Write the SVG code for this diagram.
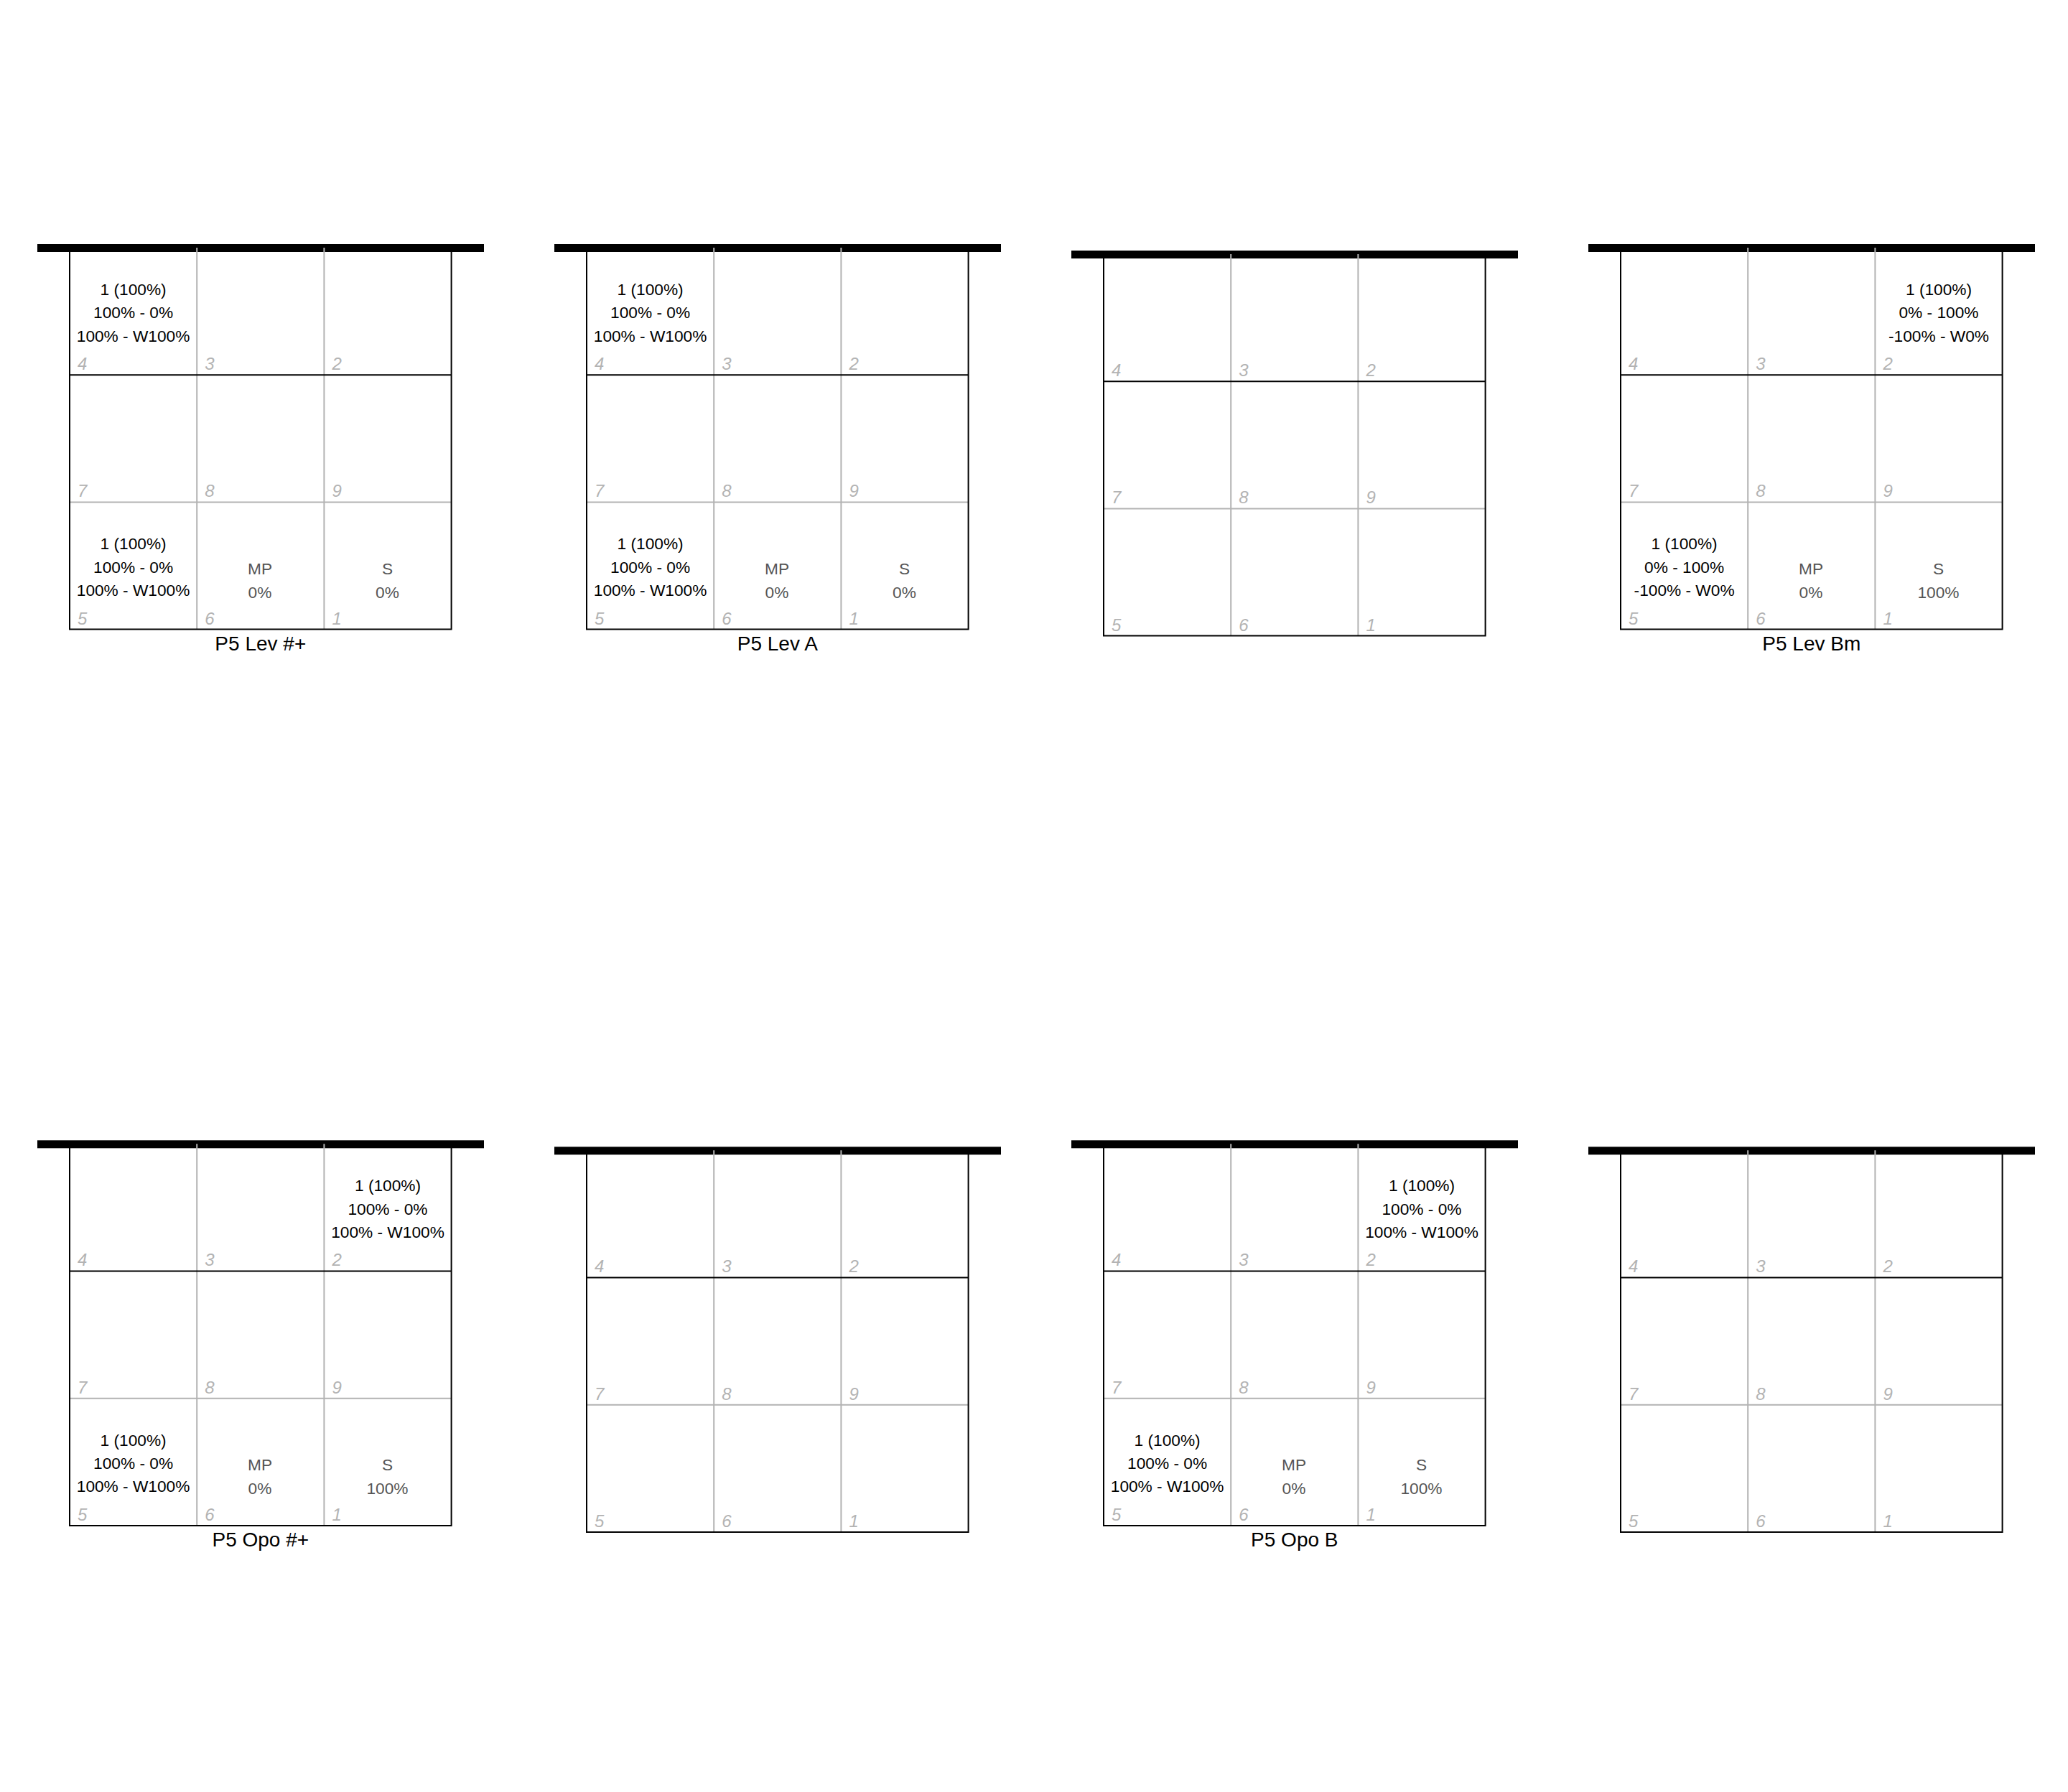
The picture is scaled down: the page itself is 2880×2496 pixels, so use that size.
<svg xmlns="http://www.w3.org/2000/svg" xmlns:xlink="http://www.w3.org/1999/xlink" width="2880" height="2496" viewBox="0 0 2880 2496">
<style>
.bar{fill:#000}
.gl{stroke:#b3b3b3;stroke-width:2;fill:none}
.bl{stroke:#000;stroke-width:2;fill:none}
.num{font-family:"Liberation Sans",Arial,sans-serif;font-size:24px;font-style:italic;fill:#b3b3b3}
.t{font-family:"Liberation Sans",Arial,sans-serif;font-size:22.7px;fill:#000;text-anchor:middle}
.m{font-family:"Liberation Sans",Arial,sans-serif;font-size:22.7px;fill:#555;text-anchor:middle}
.lab{font-family:"Liberation Sans",Arial,sans-serif;font-size:28px;fill:#000;text-anchor:middle}
</style>
<defs>
<g id="grid">
<rect class="bar" x="-45" y="-5" width="622" height="11"/>
<path class="gl" d="M177.2 0V531.6M354.4 0V531.6M0 354.4H531.6"/>
<path class="bl" d="M0 0V531.6M531.6 0V531.6M0 177.2H531.6M-1 531.6H532.6"/>
<text class="num" x="11" y="170">4</text>
<text class="num" x="188.2" y="170">3</text>
<text class="num" x="365.4" y="170">2</text>
<text class="num" x="11" y="347.4">7</text>
<text class="num" x="188.2" y="347.4">8</text>
<text class="num" x="365.4" y="347.4">9</text>
<text class="num" x="11" y="524.6">5</text>
<text class="num" x="188.2" y="524.6">6</text>
<text class="num" x="365.4" y="524.6">1</text>
</g>
</defs>
<rect width="2880" height="2496" fill="#fff"/>

<g id="panel-p5-lev-hash" transform="translate(97,345)">
<use xlink:href="#grid" href="#grid"/>
<text class="t" x="88.6" y="66">1 (100%)</text>
<text class="t" x="88.6" y="98.3">100% - 0%</text>
<text class="t" x="88.6" y="130.6">100% - W100%</text>
<text class="t" x="88.6" y="420.4">1 (100%)</text>
<text class="t" x="88.6" y="452.7">100% - 0%</text>
<text class="t" x="88.6" y="485">100% - W100%</text>
<text class="m" x="265" y="455">MP</text>
<text class="m" x="265" y="487.5">0%</text>
<text class="m" x="442.5" y="455">S</text>
<text class="m" x="442.5" y="487.5">0%</text>
<text class="lab" x="265.8" y="560.6">P5 Lev #+</text>
</g>

<g id="panel-p5-lev-a" transform="translate(817,345)">
<use xlink:href="#grid" href="#grid"/>
<text class="t" x="88.6" y="66">1 (100%)</text>
<text class="t" x="88.6" y="98.3">100% - 0%</text>
<text class="t" x="88.6" y="130.6">100% - W100%</text>
<text class="t" x="88.6" y="420.4">1 (100%)</text>
<text class="t" x="88.6" y="452.7">100% - 0%</text>
<text class="t" x="88.6" y="485">100% - W100%</text>
<text class="m" x="265" y="455">MP</text>
<text class="m" x="265" y="487.5">0%</text>
<text class="m" x="442.5" y="455">S</text>
<text class="m" x="442.5" y="487.5">0%</text>
<text class="lab" x="265.8" y="560.6">P5 Lev A</text>
</g>

<g id="panel-top-3" transform="translate(1537,354)">
<use xlink:href="#grid" href="#grid"/>
</g>

<g id="panel-p5-lev-bm" transform="translate(2257,345)">
<use xlink:href="#grid" href="#grid"/>
<text class="t" x="443" y="66">1 (100%)</text>
<text class="t" x="443" y="98.3">0% - 100%</text>
<text class="t" x="443" y="130.6">-100% - W0%</text>
<text class="t" x="88.6" y="420.4">1 (100%)</text>
<text class="t" x="88.6" y="452.7">0% - 100%</text>
<text class="t" x="88.6" y="485">-100% - W0%</text>
<text class="m" x="265" y="455">MP</text>
<text class="m" x="265" y="487.5">0%</text>
<text class="m" x="442.5" y="455">S</text>
<text class="m" x="442.5" y="487.5">100%</text>
<text class="lab" x="265.8" y="560.6">P5 Lev Bm</text>
</g>

<g id="panel-p5-opo-hash" transform="translate(97,1593.3)">
<use xlink:href="#grid" href="#grid"/>
<text class="t" x="443" y="66">1 (100%)</text>
<text class="t" x="443" y="98.3">100% - 0%</text>
<text class="t" x="443" y="130.6">100% - W100%</text>
<text class="t" x="88.6" y="420.4">1 (100%)</text>
<text class="t" x="88.6" y="452.7">100% - 0%</text>
<text class="t" x="88.6" y="485">100% - W100%</text>
<text class="m" x="265" y="455">MP</text>
<text class="m" x="265" y="487.5">0%</text>
<text class="m" x="442.5" y="455">S</text>
<text class="m" x="442.5" y="487.5">100%</text>
<text class="lab" x="265.8" y="560.6">P5 Opo #+</text>
</g>

<g id="panel-bottom-2" transform="translate(817,1602.3)">
<use xlink:href="#grid" href="#grid"/>
</g>

<g id="panel-p5-opo-b" transform="translate(1537,1593.3)">
<use xlink:href="#grid" href="#grid"/>
<text class="t" x="443" y="66">1 (100%)</text>
<text class="t" x="443" y="98.3">100% - 0%</text>
<text class="t" x="443" y="130.6">100% - W100%</text>
<text class="t" x="88.6" y="420.4">1 (100%)</text>
<text class="t" x="88.6" y="452.7">100% - 0%</text>
<text class="t" x="88.6" y="485">100% - W100%</text>
<text class="m" x="265" y="455">MP</text>
<text class="m" x="265" y="487.5">0%</text>
<text class="m" x="442.5" y="455">S</text>
<text class="m" x="442.5" y="487.5">100%</text>
<text class="lab" x="265.8" y="560.6">P5 Opo B</text>
</g>

<g id="panel-bottom-4" transform="translate(2257,1602.3)">
<use xlink:href="#grid" href="#grid"/>
</g>

<g id="connectors"></g>
</svg>
